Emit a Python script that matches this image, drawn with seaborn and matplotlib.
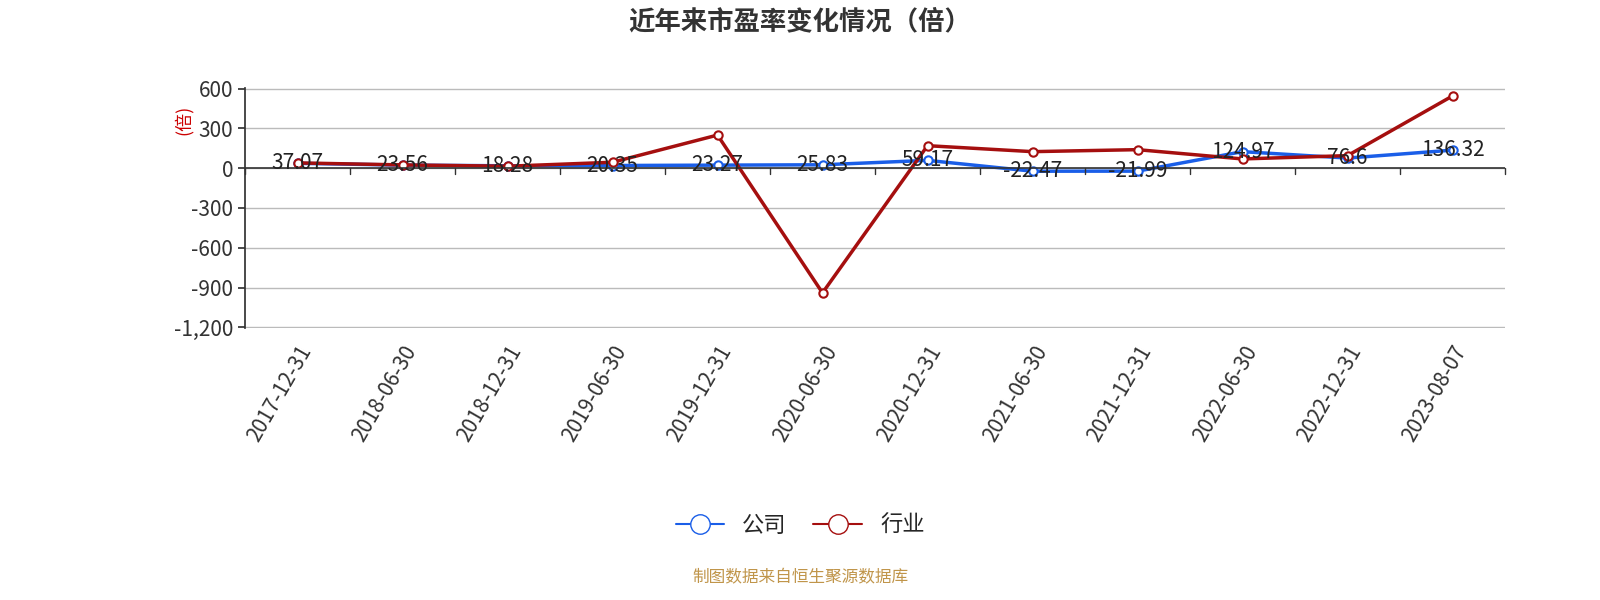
import matplotlib
matplotlib.use("Agg")
import matplotlib.pyplot as plt
import seaborn as sns
import pandas as pd
import numpy as np

dates = ["2017-12-31","2018-06-30","2018-12-31","2019-06-30","2019-12-31","2020-06-30",
         "2020-12-31","2021-06-30","2021-12-31","2022-06-30","2022-12-31","2023-08-07"]
company = [37.07,23.56,18.28,20.35,23.27,25.83,59.17,-22.47,-21.99,124.97,76.6,136.32]
industry = [40,25,15,45,250,-940,170,125,140,70,95,545]
yticks = [600,300,0,-300,-600,-900,-1200]

sns.set_theme(style="white")
plt.rcParams['font.family'] = ['Noto Sans CJK SC', 'DejaVu Sans']

fig = plt.figure(figsize=(16,6), dpi=100)
ax = fig.add_axes([245/1600, 1-328/600, 1260/1600, 240/600])
x = np.arange(len(dates)) + 0.5
df = pd.DataFrame({"x": np.concatenate([x,x]), "v": company+industry,
                   "s": ["公司"]*12 + ["行业"]*12})
sns.lineplot(data=df, x="x", y="v", hue="s", palette={"公司":"#1a5ee8","行业":"#a50f0f"},
             linewidth=2.5, marker="o", markersize=6, markerfacecolor="white",
             markeredgewidth=1.5, ax=ax, legend=False)
for l in ax.lines:
    l.set_markeredgecolor(l.get_color())
for xi, v in zip(x, company):
    ax.text(xi, v, f"{v:g}", ha="center", va="center", fontsize=15, color="#222")

ax.set_xlim(0, 12)
ax.set_ylim(-1205, 605)
ax.set_yticks(yticks)
ax.set_yticklabels([f"{t:,}" for t in yticks], fontsize=15, color="#333")
ax.yaxis.grid(True, color="#bbbbbb", linewidth=1)
ax.set_xticks(x)
ax.set_xticklabels(dates, rotation=60, ha="right", rotation_mode="anchor", fontsize=15, color="#333")
ax.tick_params(axis="x", length=0, pad=10)
for b in range(13):
    ax.plot([b,b],[0,-45], color="#333", lw=1, clip_on=False)
ax.axhline(0, color="#333", lw=1.2)
for s in ["top","right","bottom","left"]:
    ax.spines[s].set_visible(False)
ax.spines["left"].set_visible(True); ax.spines["left"].set_color("#333")
ax.tick_params(axis="y", length=5, left=True, color="#333")
ax.set_xlabel(""); ax.set_ylabel("")
fig.text(183/1600, 1-120/600, "(倍)", rotation=90, color="#cc0000", fontsize=13, ha="center", va="center")

fig.text(0.5, 1-22/600, "近年来市盈率变化情况（倍）", ha="center", va="center", fontsize=19, fontweight="bold", color="#333")
from matplotlib.lines import Line2D
h = [Line2D([],[],color="#1a5ee8",lw=1.5,marker="o",markersize=14,markerfacecolor="white"),
     Line2D([],[],color="#a50f0f",lw=1.5,marker="o",markersize=14,markerfacecolor="white")]
fig.legend(h, ["公司","行业"], loc="center", bbox_to_anchor=(0.5, 1-525/600), ncol=2,
           frameon=False, fontsize=16, handlelength=2.2, columnspacing=1.2)
fig.text(0.5, 1-578/600, "制图数据来自恒生聚源数据库", ha="center", va="center", fontsize=12, color="#c0954a")
fig.savefig("out.png")
